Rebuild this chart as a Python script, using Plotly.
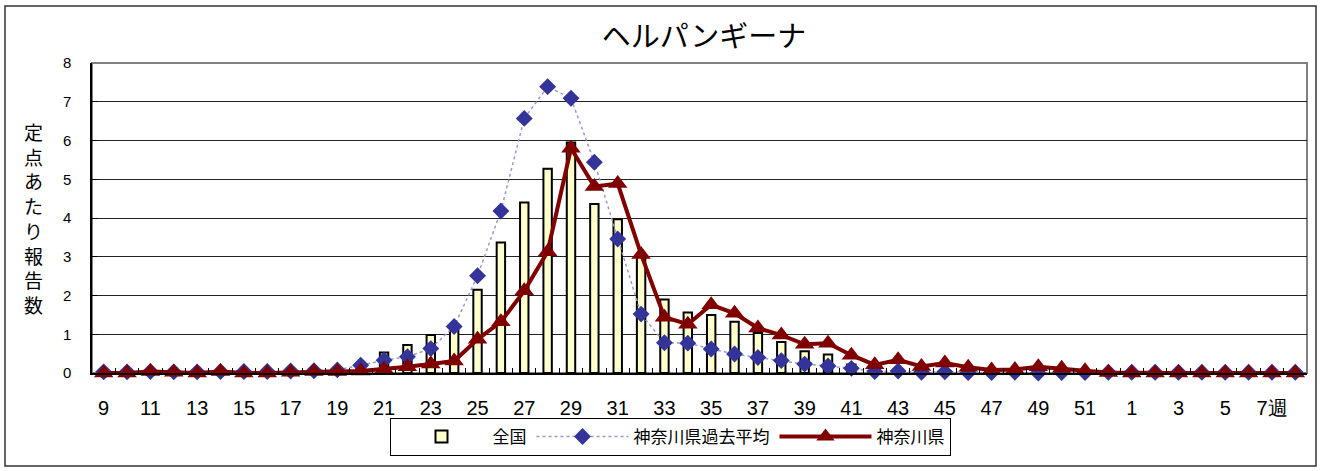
import plotly.graph_objects as go

weeks = ["9", "10", "11", "12", "13", "14", "15", "16", "17", "18", "19",
         "20", "21", "22", "23", "24", "25", "26", "27", "28", "29", "30",
         "31", "32", "33", "34", "35", "36", "37", "38", "39", "40", "41",
         "42", "43", "44", "45", "46", "47", "48", "49", "50", "51", "52",
         "1", "2", "3", "4", "5", "6", "7", "8"]

national = [0.01, 0.01, 0.01, 0.01, 0.01, 0.02, 0.02, 0.02, 0.03, 0.04, 0.08,
            0.25, 0.53, 0.72, 0.98, 1.15, 2.15, 3.37, 4.40, 5.27, 5.95, 4.36,
            3.97, 3.02, 1.90, 1.56, 1.50, 1.32, 1.03, 0.80, 0.56, 0.48, 0.22,
            0.12, 0.10, 0.08, 0.07, 0.06, 0.05, 0.05, 0.04, 0.04, 0.03, 0.03,
            0.02, 0.02, 0.02, 0.02, 0.02, 0.01, 0.01, 0.01]

past_avg = [0.03, 0.03, 0.04, 0.03, 0.03, 0.04, 0.04, 0.04, 0.05, 0.06, 0.08,
            0.20, 0.33, 0.42, 0.63, 1.20, 2.51, 4.18, 6.57, 7.39, 7.09, 5.44,
            3.46, 1.52, 0.78, 0.77, 0.62, 0.49, 0.40, 0.32, 0.23, 0.18, 0.12,
            0.04, 0.05, 0.02, 0.03, 0.01, 0.01, 0.02, 0.00, 0.01, 0.01, 0.02,
            0.02, 0.02, 0.02, 0.02, 0.02, 0.02, 0.02, 0.02]

kanagawa = [0.00, 0.00, 0.04, 0.02, 0.00, 0.04, 0.00, 0.00, 0.02, 0.04, 0.04,
            0.05, 0.10, 0.16, 0.23, 0.31, 0.87, 1.32, 2.12, 3.13, 5.80, 4.81,
            4.89, 3.06, 1.44, 1.26, 1.76, 1.54, 1.16, 0.98, 0.74, 0.77, 0.46,
            0.21, 0.34, 0.17, 0.26, 0.15, 0.08, 0.09, 0.16, 0.12, 0.06, 0.01,
            0.00, 0.00, 0.00, 0.00, 0.00, 0.00, 0.00, 0.00]

tick_weeks = ["9", "11", "13", "15", "17", "19", "21", "23", "25", "27", "29",
              "31", "33", "35", "37", "39", "41", "43", "45", "47", "49", "51",
              "1", "3", "5", "7"]
tick_text = tick_weeks[:-1] + ["7週"]

title_text = "ヘルパンギーナ"
y_title = "定点あたり報告数"
names = ["全国", "神奈川県過去平均", "神奈川県"]

fig = go.Figure()
fig.add_trace(go.Bar(
    x=weeks, y=national, name=names[0],
    marker=dict(color="#FFFFCC", line=dict(color="black", width=2)),
))
fig.add_trace(go.Scatter(
    x=weeks, y=past_avg, name=names[1], mode="lines+markers",
    line=dict(color="#9999CC", width=1.5, dash="dot"),
    marker=dict(symbol="diamond", size=13, color="#333399"),
    cliponaxis=False, xaxis="x2",
))
fig.add_trace(go.Scatter(
    x=weeks, y=kanagawa, name=names[2], mode="lines+markers",
    line=dict(color="#800000", width=4),
    marker=dict(symbol="triangle-up", size=17, color="#800000"),
    cliponaxis=False, xaxis="x2",
))

L, R, T, B = 92, 15, 63, 98
W, H = 1322, 471
pw, ph = W - L - R, H - T - B

def px_to_paper_x(px):
    return (px - L) / pw

def px_to_paper_y(py):
    return (H - B - py) / ph

xrange_ = [-0.5, len(weeks) - 0.5]

fig.update_layout(
    width=W, height=H,
    margin=dict(l=L, r=R, t=T, b=B, pad=0, autoexpand=False),
    paper_bgcolor="white", plot_bgcolor="white",
    bargap=0.64,
    showlegend=True,
    legend=dict(
        orientation="h", x=px_to_paper_x(670), y=px_to_paper_y(437),
        xanchor="center", yanchor="middle",
        bordercolor="black", borderwidth=1, bgcolor="white",
        font=dict(family="Noto Sans CJK JP", size=17, color="black"),
        itemwidth=92, tracegroupgap=0,
    ),
    title=dict(
        text=title_text, x=px_to_paper_x(704), xref="paper", xanchor="center",
        y=1 - 37 / H, yanchor="middle",
        font=dict(family="Noto Sans CJK JP", size=29, color="black"),
    ),
    font=dict(family="Liberation Sans, Arial", color="black"),
    xaxis=dict(
        type="category", categoryorder="array", categoryarray=weeks,
        tickmode="array", tickvals=tick_weeks, ticktext=tick_text,
        tickangle=0, automargin=False,
        showline=True, linecolor="black", linewidth=1.5,
        ticks="", showgrid=False,
        tickfont=dict(family="Liberation Sans, Arial", size=20, color="black"),
        ticklabelstandoff=16,
        range=xrange_,
    ),
    xaxis2=dict(
        type="category", categoryorder="array", categoryarray=weeks,
        overlaying="x", anchor="y", side="bottom",
        range=xrange_, automargin=False,
        showline=False, showgrid=False, showticklabels=False,
        ticks="inside", ticklen=5, tickcolor="black", tickwidth=1,
        tickson="boundaries", tickmode="linear", dtick=1,
    ),
    yaxis=dict(
        range=[0, 8], dtick=1, tick0=0, automargin=False,
        showline=True, linecolor="black", linewidth=1.5,
        ticks="inside", ticklen=5, tickcolor="black",
        showgrid=True, gridcolor="#222222", gridwidth=1,
        zeroline=False,
        tickfont=dict(family="Liberation Sans, Arial", size=15, color="black"),
        ticklabelstandoff=16,
    ),
)

# plot-area frame (gray) and outer chart border
fig.add_shape(type="rect", xref="paper", yref="paper", x0=0, x1=1, y0=0, y1=1,
              line=dict(color="#808080", width=2), layer="below")
fig.add_shape(type="rect", xref="paper", yref="paper",
              x0=px_to_paper_x(5), x1=px_to_paper_x(1316),
              y0=px_to_paper_y(466), y1=px_to_paper_y(6),
              line=dict(color="#333333", width=1.5), layer="below")

fig.add_annotation(
    text="<br>".join(list(y_title)), xref="paper", yref="paper",
    x=px_to_paper_x(33), y=px_to_paper_y(218), xanchor="center", yanchor="middle",
    showarrow=False, align="center",
    font=dict(family="Noto Sans CJK JP", size=19, color="black"),
)

fig.write_html("out.html", post_script="document.body.style.margin='0px';",
               config={"displayModeBar": False})
